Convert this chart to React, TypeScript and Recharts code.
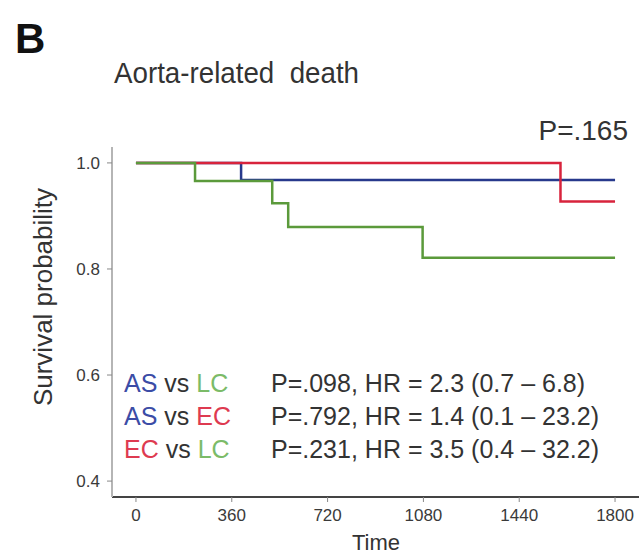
import React from "react";
import { LineChart, Line, XAxis, YAxis } from "recharts";

// Kaplan-Meier steps (time in days, survival probability)
const asTimes = [0, 395, 1800];
const asSurv = [1, 0.968, 0.968];

const ecTimes = [0, 1595, 1800];
const ecSurv = [1, 0.927, 0.927];

const lcTimes = [0, 222, 512, 572, 1077, 1800];
const lcSurv = [1, 0.966, 0.924, 0.879, 0.821, 0.821];

const xTicks = [0, 360, 720, 1080, 1440, 1800];
const yTicks = [0.4, 0.6, 0.8, 1.0];

const comparisons = [
  { a: "AS", b: "LC", stat: "P=.098, HR = 2.3 (0.7 \u2013 6.8)" },
  { a: "AS", b: "EC", stat: "P=.792, HR = 1.4 (0.1 \u2013 23.2)" },
  { a: "EC", b: "LC", stat: "P=.231, HR = 3.5 (0.4 \u2013 32.2)" },
];

const BLUE = "#27398c";
const RED = "#d8233c";
const GREEN = "#5b9a3b";
const textColor: Record<string, string> = { AS: "#3b4ca6", EC: "#de3a50", LC: "#7bbb68" };

const toRows = (times: number[], surv: number[]) =>
  times.map((t, i) => ({ t, s: surv[i] }));

const FONT = "'Liberation Sans', Arial, sans-serif";

export default function App() {
  return (
    <div style={{ position: "absolute", left: 0, top: 0, width: 639, height: 554, background: "#fff" }}>
      <LineChart
        width={639}
        height={554}
        margin={{ top: 147, right: 0, bottom: 17, left: 62 }}
        style={{ fontFamily: FONT }}
      >
        <XAxis
          dataKey="t"
          type="number"
          domain={[-90, 1890]}
          ticks={xTicks}
          allowDataOverflow
          height={40}
          axisLine={{ stroke: "#444", strokeWidth: 2 }}
          tickLine={{ stroke: "#888" }}
          tickSize={5}
          tickMargin={7}
          tick={{ fill: "#3a3a3a", fontSize: 17 }}
        />
        <YAxis
          type="number"
          domain={[0.37, 1.03]}
          ticks={yTicks}
          allowDataOverflow
          width={50}
          axisLine={{ stroke: "#b5b5b5", strokeWidth: 2 }}
          tickLine={{ stroke: "#888" }}
          tickSize={5}
          tickMargin={7}
          tickFormatter={(v: number) => v.toFixed(1)}
          tick={{ fill: "#3a3a3a", fontSize: 17 }}
        />
        <Line data={toRows(asTimes, asSurv)} dataKey="s" type="stepAfter" stroke={BLUE} strokeWidth={2.5} dot={false} isAnimationActive={false} />
        <Line data={toRows(ecTimes, ecSurv)} dataKey="s" type="stepAfter" stroke={RED} strokeWidth={2.5} dot={false} isAnimationActive={false} />
        <Line data={toRows(lcTimes, lcSurv)} dataKey="s" type="stepAfter" stroke={GREEN} strokeWidth={2.5} dot={false} isAnimationActive={false} />
      </LineChart>
      <svg
        width={639}
        height={554}
        style={{ position: "absolute", left: 0, top: 0, pointerEvents: "none", fontFamily: FONT }}
      >
        <text x={15} y={53} fontSize={42} fontWeight="bold" fill="#111">B</text>
        <text
          x={114}
          y={83}
          fontSize={30}
          fill="#333"
          xmlSpace="preserve"
          textLength={245}
          lengthAdjust="spacingAndGlyphs"
        >
          Aorta-related  death
        </text>
        <text x={628} y={140} fontSize={28} fill="#333" textAnchor="end">P=.165</text>
        <text
          transform="translate(52, 297) rotate(-90)"
          fontSize={26}
          fill="#333"
          textAnchor="middle"
        >
          Survival probability
        </text>
        <text x={376} y={550} fontSize={22} fill="#333" textAnchor="middle">Time</text>
        {comparisons.map((c, i) => (
          <g key={i}>
            <text x={124} y={392 + i * 33} fontSize={25}>
              <tspan fill={textColor[c.a]}>{c.a}</tspan>
              <tspan fill="#333"> vs </tspan>
              <tspan fill={textColor[c.b]}>{c.b}</tspan>
            </text>
            <text x={271} y={392 + i * 33} fontSize={25} fill="#333">{c.stat}</text>
          </g>
        ))}
      </svg>
    </div>
  );
}
